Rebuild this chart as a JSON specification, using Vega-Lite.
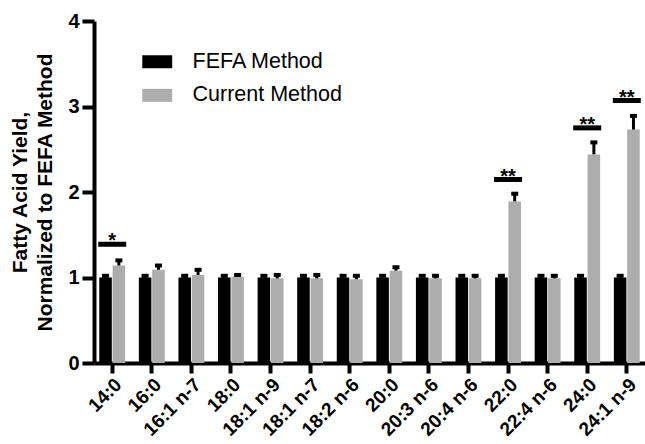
{
  "$schema": "https://vega.github.io/schema/vega-lite/v6.json",
  "width": 551,
  "height": 342,
  "autosize": "none",
  "padding": {"left": 94, "top": 21, "right": 0, "bottom": 81},
  "config": {
    "font": "Liberation Sans",
    "view": {"stroke": null},
    "axis": {"grid": false}
  },
  "datasets": {
    "bars": [
      {"cat": "14:0", "method": "FEFA Method", "value": 1.0, "err": 1.02},
      {"cat": "14:0", "method": "Current Method", "value": 1.14, "err": 1.2},
      {"cat": "16:0", "method": "FEFA Method", "value": 1.0, "err": 1.02},
      {"cat": "16:0", "method": "Current Method", "value": 1.09, "err": 1.14},
      {"cat": "16:1 n-7", "method": "FEFA Method", "value": 1.0, "err": 1.02},
      {"cat": "16:1 n-7", "method": "Current Method", "value": 1.03, "err": 1.09},
      {"cat": "18:0", "method": "FEFA Method", "value": 1.0, "err": 1.02},
      {"cat": "18:0", "method": "Current Method", "value": 1.01, "err": 1.03},
      {"cat": "18:1 n-9", "method": "FEFA Method", "value": 1.0, "err": 1.02},
      {"cat": "18:1 n-9", "method": "Current Method", "value": 0.99, "err": 1.03},
      {"cat": "18:1 n-7", "method": "FEFA Method", "value": 1.0, "err": 1.02},
      {"cat": "18:1 n-7", "method": "Current Method", "value": 0.99, "err": 1.03},
      {"cat": "18:2 n-6", "method": "FEFA Method", "value": 1.0, "err": 1.02},
      {"cat": "18:2 n-6", "method": "Current Method", "value": 0.98, "err": 1.02},
      {"cat": "20:0", "method": "FEFA Method", "value": 1.0, "err": 1.02},
      {"cat": "20:0", "method": "Current Method", "value": 1.08, "err": 1.12},
      {"cat": "20:3 n-6", "method": "FEFA Method", "value": 1.0, "err": 1.02},
      {"cat": "20:3 n-6", "method": "Current Method", "value": 0.99, "err": 1.02},
      {"cat": "20:4 n-6", "method": "FEFA Method", "value": 1.0, "err": 1.02},
      {"cat": "20:4 n-6", "method": "Current Method", "value": 0.99, "err": 1.02},
      {"cat": "22:0", "method": "FEFA Method", "value": 1.0, "err": 1.02},
      {"cat": "22:0", "method": "Current Method", "value": 1.89, "err": 1.98},
      {"cat": "22:4 n-6", "method": "FEFA Method", "value": 1.0, "err": 1.02},
      {"cat": "22:4 n-6", "method": "Current Method", "value": 0.99, "err": 1.02},
      {"cat": "24:0", "method": "FEFA Method", "value": 1.0, "err": 1.02},
      {"cat": "24:0", "method": "Current Method", "value": 2.44, "err": 2.58},
      {"cat": "24:1 n-9", "method": "FEFA Method", "value": 1.0, "err": 1.02},
      {"cat": "24:1 n-9", "method": "Current Method", "value": 2.73, "err": 2.89}
    ],
    "sig": [
      {"cat": "14:0", "sig": 1.39, "label": "*"},
      {"cat": "22:0", "sig": 2.146, "label": "**"},
      {"cat": "24:0", "sig": 2.75, "label": "**"},
      {"cat": "24:1 n-9", "sig": 3.07, "label": "**"}
    ]
  },
  "encoding": {
    "x": {
      "field": "cat",
      "type": "nominal",
      "sort": ["14:0","16:0","16:1 n-7","18:0","18:1 n-9","18:1 n-7","18:2 n-6","20:0","20:3 n-6","20:4 n-6","22:0","22:4 n-6","24:0","24:1 n-9"],
      "scale": {"paddingInner": 0.346, "paddingOuter": 0.133},
      "axis": {
        "title": null,
        "labelAngle": -45,
        "labelFontSize": 19,
        "labelFontWeight": "bold",
        "labelColor": "black",
        "labelPadding": 2,
        "tickSize": 10,
        "tickWidth": 4,
        "tickColor": "black",
        "domainWidth": 4,
        "domainColor": "black"
      }
    }
  },
  "layer": [
    {
      "data": {"name": "bars"},
      "mark": {"type": "bar"},
      "encoding": {
        "xOffset": {
          "field": "method",
          "type": "nominal",
          "sort": ["FEFA Method", "Current Method"],
          "scale": {"paddingInner": 0.06}
        },
        "y": {
          "field": "value",
          "type": "quantitative",
          "scale": {"domain": [0, 4]},
          "axis": {
            "values": [0, 1, 2, 3, 4],
            "format": "d",
            "title": ["Fatty Acid Yield,", "Normalized to FEFA Method"],
            "titleFontSize": 21,
            "titleFontWeight": "bold",
            "titleColor": "black",
            "titleLineHeight": 25,
            "titlePadding": 12,
            "labelFontSize": 20,
            "labelFontWeight": "bold",
            "labelColor": "black",
            "labelPadding": 3,
            "tickSize": 12,
            "tickWidth": 4,
            "tickColor": "black",
            "domainWidth": 4,
            "domainColor": "black"
          }
        },
        "color": {
          "field": "method",
          "type": "nominal",
          "sort": ["FEFA Method", "Current Method"],
          "scale": {"domain": ["FEFA Method", "Current Method"], "range": ["#000000", "#adadad"]},
          "legend": {
            "title": null,
            "orient": "none",
            "legendX": 52.5,
            "legendY": 30,
            "padding": 0,
            "symbolType": "M-2.3,-1H2.3V1H-2.3Z",
            "symbolSize": 169,
            "symbolStrokeWidth": 0,
            "symbolOpacity": 1,
            "labelFontSize": 21.5,
            "labelColor": "black",
            "labelOffset": 24.5,
            "rowPadding": 10.6
          }
        }
      }
    },
    {
      "data": {"name": "bars"},
      "mark": {"type": "rule", "strokeWidth": 3, "color": "black"},
      "encoding": {
        "xOffset": {"field": "method", "type": "nominal", "sort": ["FEFA Method", "Current Method"]},
        "y": {"field": "value", "type": "quantitative"},
        "y2": {"field": "err"}
      }
    },
    {
      "data": {"name": "bars"},
      "mark": {"type": "tick", "size": 7, "thickness": 4, "color": "black", "opacity": 1},
      "encoding": {
        "xOffset": {"field": "method", "type": "nominal", "sort": ["FEFA Method", "Current Method"]},
        "y": {"field": "err", "type": "quantitative"}
      }
    },
    {
      "data": {"name": "sig"},
      "mark": {"type": "tick", "size": 28, "thickness": 5, "color": "black", "opacity": 1},
      "encoding": {
        "y": {"field": "sig", "type": "quantitative"}
      }
    },
    {
      "data": {"name": "sig"},
      "mark": {"type": "text", "fontSize": 20, "fontWeight": "bold", "baseline": "alphabetic", "dy": 3, "color": "black"},
      "encoding": {
        "y": {"field": "sig", "type": "quantitative"},
        "text": {"field": "label"}
      }
    }
  ]
}
